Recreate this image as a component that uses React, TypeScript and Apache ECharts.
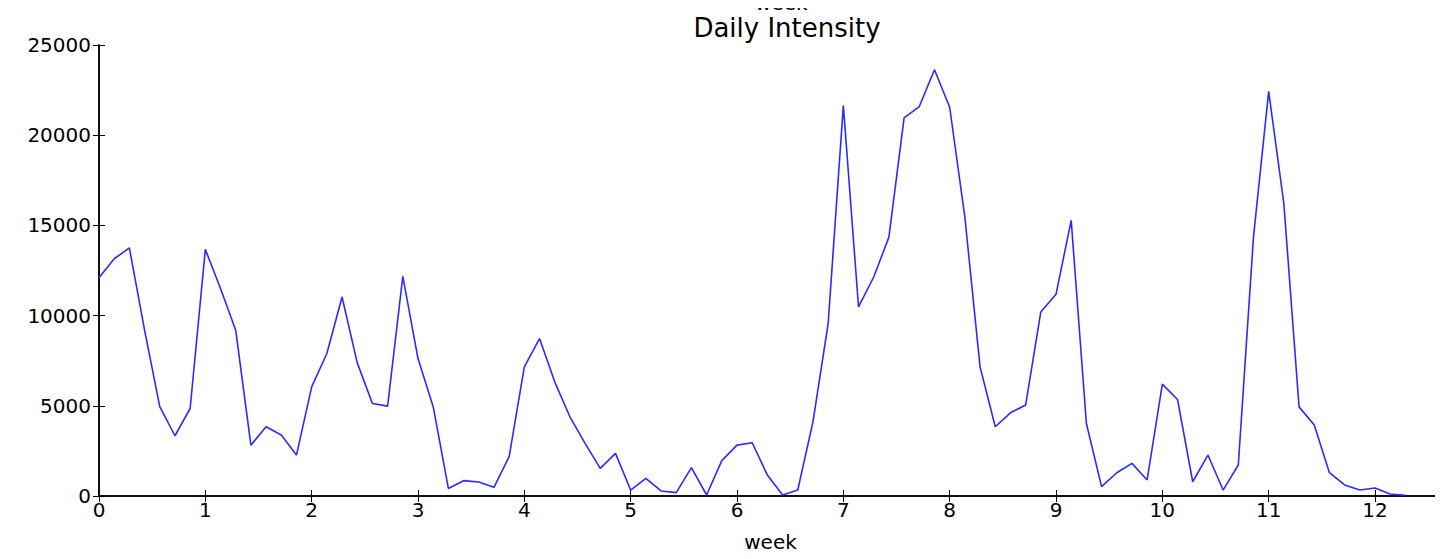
import React, { useEffect, useRef } from "react";
import * as echarts from "echarts";

// daily values, one per day (x = day / 7 weeks)
const dailyIntensity = [
  12100, 13150, 13750, 9190, 4950, 3340, 4850,
  13670, 11500, 9190, 2820, 3840, 3380, 2270,
  6050, 7900, 11030, 7380, 5130, 4980, 12180,
  7620, 4950, 420, 850, 775, 480, 2180,
  7160, 8730, 6330, 4390, 2920, 1530, 2360,
  330, 980, 280, 185, 1570, 55, 1960,
  2820, 2950, 1160, 55, 330, 4110, 9560,
  21640, 10480, 12140, 14350, 20960, 21590, 23630,
  21550, 15460, 7160, 3840, 4610, 5040, 10200,
  11180, 15280, 4020, 520, 1290, 1810, 890,
  6200, 5350, 790, 2270, 330, 1720, 14350,
  22430, 16200, 4940, 3930, 1290, 610, 330,
  440, 110, 40,
];
const DAYS_PER_WEEK = 7;
const X_MAX = 12.63;

const FONT = "DejaVu Sans";

export default function App() {
  const ref = useRef<HTMLDivElement>(null);

  useEffect(() => {
    if (!ref.current) return;
    const chart = echarts.init(ref.current, undefined, { renderer: "svg" });
    const data = dailyIntensity.map((v, i) => [i / DAYS_PER_WEEK, v]);
    const tick = { show: true, inside: true, length: 6, lineStyle: { color: "#000" } };
    const intLabel = (v: number) => (Number.isInteger(v) ? String(v) : "");

    chart.setOption({
      animation: false,
      backgroundColor: "#fff",
      title: {
        text: "Daily Intensity",
        left: 782,
        top: 10,
        textAlign: "center",
        textStyle: { fontFamily: FONT, fontSize: 26, fontWeight: "normal", color: "#000" },
      },
      graphic: [
        {
          type: "text",
          left: 755,
          top: -7,
          style: { text: "week", font: `20px ${FONT}`, fill: "#000" },
        },
      ],
      grid: { left: 99, right: 1, top: 45, bottom: 63 },
      xAxis: [
        {
          type: "value",
          min: 0,
          max: X_MAX,
          interval: 1,
          name: "week",
          nameLocation: "middle",
          nameGap: 36,
          nameTextStyle: { fontFamily: FONT, fontSize: 20, color: "#000" },
          axisLine: { lineStyle: { color: "#000", width: 1.5 } },
          axisTick: tick,
          axisLabel: { fontFamily: FONT, fontSize: 20, color: "#000", margin: 4, formatter: intLabel, showMaxLabel: false },
          splitLine: { show: false },
        },
        {
          type: "value",
          position: "top",
          min: 0,
          max: X_MAX,
          interval: 1,
          axisLine: { show: true, lineStyle: { color: "#000", width: 1.5 } },
          axisTick: tick,
          axisLabel: { show: false },
          splitLine: { show: false },
        },
      ],
      yAxis: [
        {
          type: "value",
          min: 0,
          max: 25000,
          interval: 5000,
          axisLine: { show: true, lineStyle: { color: "#000", width: 1.5 } },
          axisTick: tick,
          axisLabel: { fontFamily: FONT, fontSize: 20, color: "#000", margin: 8, formatter: (v: number) => String(v) },
          splitLine: { show: false },
        },
        {
          type: "value",
          position: "right",
          min: 0,
          max: 25000,
          interval: 5000,
          axisLine: { show: true, lineStyle: { color: "#000", width: 1.5 } },
          axisTick: tick,
          axisLabel: { show: false },
          splitLine: { show: false },
        },
      ],
      series: [
        {
          type: "line",
          data,
          showSymbol: false,
          lineStyle: { color: "#2b2bff", width: 1.6 },
        },
      ],
    });
    return () => chart.dispose();
  }, []);

  return <div ref={ref} style={{ width: 1443, height: 559, margin: -8 }} />;
}
